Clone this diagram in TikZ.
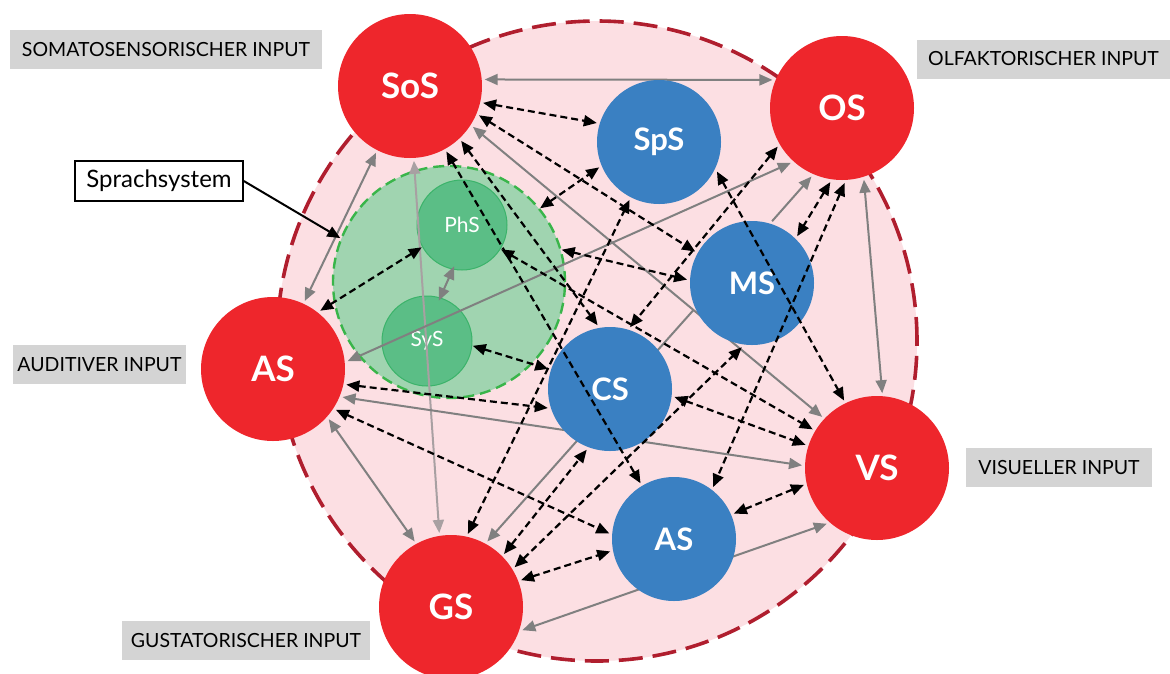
\documentclass[tikz,border=0pt]{standalone}
\usepackage{fontspec}
\setmainfont{Lato}
\usetikzlibrary{arrows.meta}
\definecolor{nred}{RGB}{238,38,44}
\definecolor{nblue}{RGB}{58,128,194}
\definecolor{pinkfill}{RGB}{252,223,227}
\definecolor{memedge}{RGB}{176,30,46}
\definecolor{grnfill}{RGB}{160,212,176}
\definecolor{grnedge}{RGB}{57,181,74}
\definecolor{subfill}{RGB}{91,190,134}
\definecolor{subedge}{RGB}{59,179,106}
\definecolor{arrgray}{RGB}{128,128,128}
\definecolor{lightarr}{RGB}{168,160,162}
\definecolor{labgray}{RGB}{212,212,212}
\pgfdeclarelayer{back}
\pgfdeclarelayer{grey}
\pgfdeclarelayer{bluel}
\pgfdeclarelayer{dash}
\pgfsetlayers{back,grey,bluel,dash,main}
\tikzset{
  rednode/.style={circle, fill=nred, minimum size=144pt, inner sep=0pt, outer sep=3pt, text=white, font=\fontsize{35}{40}\selectfont\bfseries},
  bluenode/.style={circle, fill=nblue, minimum size=124pt, inner sep=0pt, outer sep=3pt, text=white, font=\fontsize{31}{36}\selectfont\bfseries},
  subnode/.style={circle, fill=subfill, draw=subedge, line width=1pt, minimum size=90pt, inner sep=0pt, outer sep=1pt, text=white, font=\fontsize{21}{24}\selectfont},
  labbox/.style={fill=labgray, minimum height=39pt, inner sep=0pt, font=\fontsize{19.5}{23}\selectfont},
  tipg/.tip={Triangle[length=13pt,width=11pt]},
  gboth/.style={draw=arrgray, line width=2pt, tipg-tipg},
  gone/.style={draw=arrgray, line width=2pt, -tipg},
  lgboth/.style={draw=lightarr, line width=2pt, tipg-tipg},
  dboth/.style={draw=black, line width=2.2pt, dash pattern=on 7pt off 4pt, tipg-tipg}
}
\begin{document}
\begin{tikzpicture}[x=1pt,y=-1pt]
\useasboundingbox (0,0) rectangle (1170,673);
\begin{pgfonlayer}{back}
\node[circle, minimum size=640pt, inner sep=0pt, fill=pinkfill, draw=memedge, line width=3.6pt, dash pattern=on 24pt off 10pt] (Mem) at (597,341) {};
\node[circle, minimum size=232pt, inner sep=0pt, fill=grnfill, draw=grnedge, line width=2.4pt, dash pattern=on 11pt off 6pt] (Grn) at (449,282) {};
\node[subnode] (PhS) at (462,225) {PhS};
\node[subnode] (SyS) at (427,341) {SyS};
\end{pgfonlayer}
\begin{pgfonlayer}{bluel}
\node[bluenode] (SpS) at (659,142) {SpS};
\node[bluenode] (MS) at (752,283) {MS};
\node[bluenode] (CS) at (610,389) {CS};
\node[bluenode] (ASb) at (674,539) {AS};
\end{pgfonlayer}
\node[rednode] (SoS) at (410,86) {SoS};
\node[rednode] (OS) at (842,108) {OS};
\node[rednode] (ASr) at (273,369) {AS};
\node[rednode] (VS) at (877,468) {VS};
\node[rednode] (GS) at (451,607) {GS};
\node[labbox, minimum width=312pt] (Lsom) at (166,49.5) {SOMATOSENSORISCHER INPUT};
\node[labbox, minimum width=253pt] (Lolf) at (1043.5,59) {OLFAKTORISCHER INPUT};
\node[labbox, minimum width=173pt] (Laud) at (99.5,364.5) {AUDITIVER INPUT};
\node[labbox, minimum width=186pt] (Lvis) at (1059,467.5) {VISUELLER INPUT};
\node[labbox, minimum width=248pt] (Lgus) at (246,640.5) {GUSTATORISCHER INPUT};
\node[draw=black, line width=1.6pt, fill=white, minimum width=168pt, minimum height=40pt, inner sep=0pt, font=\fontsize{24}{28}\selectfont] (Spr) at (159,181) {Sprachsystem};
\draw[black, line width=2pt, -tipg] (Spr.east) -- (Grn.158);
\begin{pgfonlayer}{grey}
\draw[gboth] (SoS.5) -- (OS.158);
\draw[gboth] (SoS.243) -- (ASr.65);
\draw[gboth] (SoS.327) -- (VS.137);
\draw[lgboth] (SoS.273) -- (GS.99);
\draw[gboth, shorten <=-4pt, shorten >=-4pt] (PhS.258) -- (SyS.73);
\draw[gboth] (ASr.6) -- (OS.227);
\draw[gboth] (ASr.338) -- (VS.178);
\draw[gboth] (ASr.318) -- (GS.119);
\draw[gone] (MS.205) -- (GS.61);
\draw[gone] (MS.72) -- (OS.246);
\draw[gboth] (GS.342) -- (VS.228);
\draw[gboth] (OS.287) -- (VS.86);
\end{pgfonlayer}
\begin{pgfonlayer}{dash}
\draw[dboth] (SoS.347) -- (SpS.163);
\draw[dboth] (SoS.337) -- (MS.151);
\draw[dboth] (SoS.313) -- (CS.101);
\draw[dboth] (SoS.299) -- (ASb.121);
\draw[dboth] (OS.211) -- (CS.72);
\draw[dboth] (OS.261) -- (MS.46);
\draw[dboth] (OS.272) -- (ASb.53);
\draw[dboth] (GS.77) -- (SpS.243);
\draw[dboth] (GS.45) -- (CS.249);
\draw[dboth] (GS.32) -- (MS.261);
\draw[dboth] (GS.21) -- (ASb.191);
\draw[dboth] (ASr.327) -- (ASb.175);
\draw[dboth] (ASr.51) -- (PhS.209);
\draw[dboth] (ASr.348) -- (CS.197);
\draw[dboth] (SyS.354) -- (CS.162);
\draw[dboth] (Grn.39) -- (SpS.203);
\draw[dboth] (Grn.16) -- (MS.177);
\draw[dboth] (PhS.328) -- (VS.149);
\draw[dboth] (CS.353) -- (VS.162);
\draw[dboth] (SpS.333) -- (VS.116);
\draw[dboth] (VS.193) -- (ASb.23);
\end{pgfonlayer}
\end{tikzpicture}
\end{document}
